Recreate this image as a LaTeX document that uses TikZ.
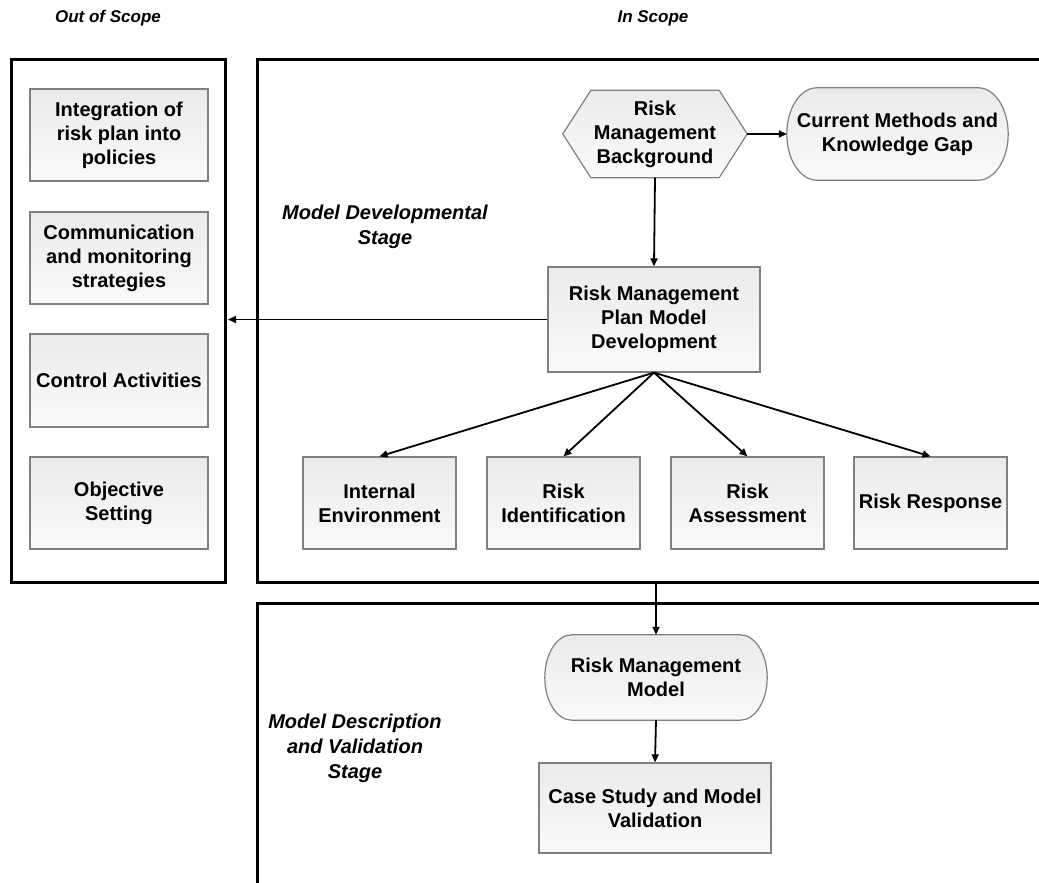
\documentclass[tikz,border=0pt]{standalone}
\usepackage{fontspec}
\setmainfont{Liberation Sans}
\usetikzlibrary{arrows.meta,calc,backgrounds}

\newcommand\boxfont{\fontsize{20}{24}\selectfont\bfseries}
\newcommand\labelfont{\fontsize{20}{25}\selectfont\bfseries\itshape}
\newcommand\headfont{\fontsize{17}{20}\selectfont\bfseries\itshape}

\tikzset{
  boxfill/.style={draw=black!50, line width=1.2pt, top color=black!8, bottom color=black!2},
  proc/.style={boxfill, rectangle, align=center, font=\boxfont, inner sep=2pt},
  txt/.style={rectangle, align=center, font=\boxfont, inner sep=2pt},
  frame/.style={draw, line width=3pt, rectangle, inner sep=0pt},
  conn/.style={line width=1.8pt, -{Triangle[length=8pt,width=7pt]}},
  stagelabel/.style={align=center, font=\labelfont},
  headlabel/.style={font=\headfont},
}

% terminator outline with elliptic ends: #1 node, #2 depth of each end
\newcommand\termpath[2]{%
  \path[boxfill] ([xshift=#2]#1.north west) -- ([xshift=-#2]#1.north east)
    .. controls ([xshift=-0.448*#2]#1.north east) and ($(#1.east)!0.552!(#1.north east)$) .. (#1.east)
    .. controls ($(#1.east)!0.552!(#1.south east)$) and ([xshift=-0.448*#2]#1.south east) .. ([xshift=-#2]#1.south east)
    -- ([xshift=#2]#1.south west)
    .. controls ([xshift=0.448*#2]#1.south west) and ($(#1.west)!0.552!(#1.south west)$) .. (#1.west)
    .. controls ($(#1.west)!0.552!(#1.north west)$) and ([xshift=0.448*#2]#1.north west) .. ([xshift=#2]#1.north west)
    -- cycle;}

% hexagon outline: #1 node, #2 depth of each point
\newcommand\hexpath[2]{%
  \path[boxfill] (#1.west) -- ([xshift=#2]#1.north west) -- ([xshift=-#2]#1.north east)
    -- (#1.east) -- ([xshift=-#2]#1.south east) -- ([xshift=#2]#1.south west) -- cycle;}

\begin{document}
\begin{tikzpicture}[x=1pt, y=-1pt]
\useasboundingbox (0,0) rectangle (1039,883);
\clip (0,0) rectangle (1039,883);

% headings
\node[headlabel] (hout) at (108,18) {Out of Scope};
\node[headlabel] (hin) at (653,18) {In Scope};

% frames
\node[frame, minimum width=214pt, minimum height=522pt] (outframe) at (118,321) {};
\node[frame, minimum width=793pt, minimum height=522pt] (inframe) at (653.5,321) {};
\node[frame, minimum width=793pt, minimum height=297pt] (valframe) at (653.5,751.5) {};

% out of scope activities
\node[proc, minimum width=178pt, minimum height=92pt] (integ) at (119,135) {Integration of\\risk plan into\\policies};
\node[proc, minimum width=178pt, minimum height=92pt] (comm) at (119,258) {Communication\\and monitoring\\strategies};
\node[proc, minimum width=178pt, minimum height=93pt] (ctrl) at (119,380.5) {Control Activities};
\node[proc, minimum width=178pt, minimum height=92pt] (obj) at (119,503) {Objective\\Setting};

% model developmental stage
\node[stagelabel] (devlabel) at (385,227) {Model Developmental\\Stage};

\node[txt, minimum width=184pt, minimum height=87pt] (bg) at (655,134) {Risk\\Management\\Background};
\node[txt, minimum width=221pt, minimum height=92pt] (cm) at (897.5,134) {Current Methods and\\Knowledge Gap};
\begin{scope}[on background layer]
  \hexpath{bg}{28pt}
  \termpath{cm}{30pt}
\end{scope}

\node[proc, minimum width=212pt, minimum height=105pt] (plan) at (654,319.5) {Risk Management\\Plan Model\\Development};

\node[proc, minimum width=153pt, minimum height=92pt] (ie) at (379.5,503) {Internal\\Environment};
\node[proc, minimum width=153pt, minimum height=92pt] (ri) at (563.5,503) {Risk\\Identification};
\node[proc, minimum width=153pt, minimum height=92pt] (ra) at (747.5,503) {Risk\\Assessment};
\node[proc, minimum width=153pt, minimum height=92pt] (rr) at (930.5,503) {Risk Response};

% model description and validation stage
\node[stagelabel] (vallabel) at (355,748) {Model Description\\and Validation\\Stage};

\node[txt, minimum width=222pt, minimum height=85pt] (rmm) at (656,677.5) {Risk Management\\Model};
\begin{scope}[on background layer]
  \termpath{rmm}{27pt}
\end{scope}
\node[proc, minimum width=232pt, minimum height=90pt] (case) at (655,808) {Case Study and Model\\Validation};

% connectors
\draw[conn] (bg.east) -- (cm.west);
\draw[conn] (bg.south) -- (plan.north);
\draw[conn, shorten >=1.5pt] (plan.west) -- (plan.west -| outframe.east);
\draw[conn] (plan.south) -- (ie.north);
\draw[conn] (plan.south) -- (ri.north);
\draw[conn] (plan.south) -- (ra.north);
\draw[conn] (plan.south) -- (rr.north);
\draw[conn] (inframe.south -| rmm.north) -- (rmm.north);
\draw[conn] (rmm.south) -- (case.north);
\end{tikzpicture}
\end{document}
